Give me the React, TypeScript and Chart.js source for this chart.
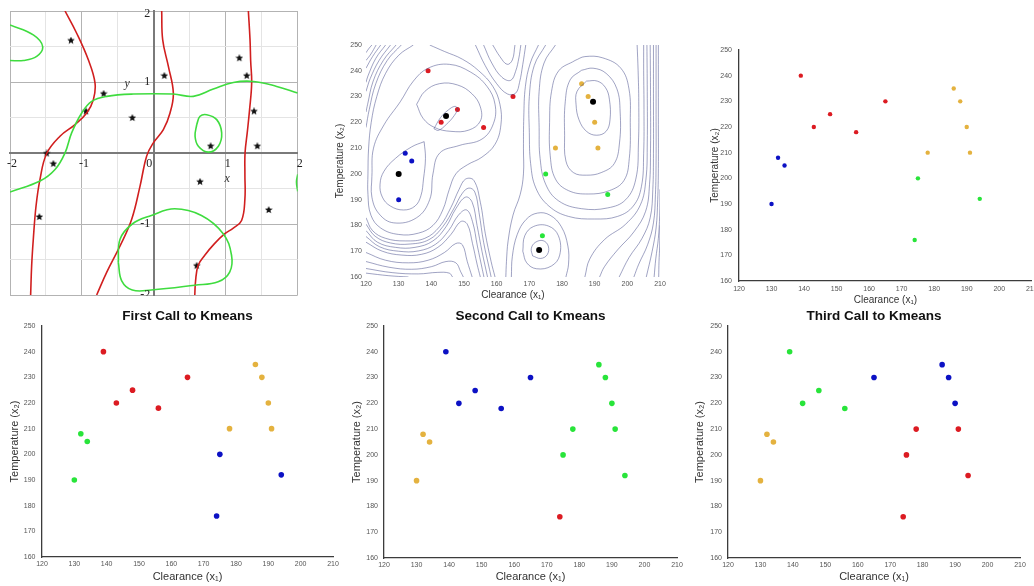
import React, { useEffect, useRef } from "react";
import { Chart, registerables } from "chart.js";

Chart.register(...registerables);

type Pt = [number, number];

const SANS = '"Liberation Sans", Arial, Helvetica, sans-serif';
const SERIF = '"Liberation Serif", "Times New Roman", serif';
Chart.defaults.font.family = SANS;

// ---------------- k-means data ----------------
const clearance = [130, 132, 134, 139, 143, 148, 156, 165, 174, 175, 178, 186, 188, 190, 191, 194];
const temperature = [190, 208, 205, 240, 220, 225, 218, 230, 176, 200, 210, 235, 230, 220, 210, 192];

const groupsInitial = ["B", "B", "B", "R", "R", "R", "R", "R", "G", "G", "O", "O", "O", "O", "O", "G"];
const groupsFirst = ["G", "G", "G", "R", "R", "R", "R", "R", "B", "B", "O", "O", "O", "O", "O", "B"];
const groupsSecond = ["O", "O", "O", "B", "B", "B", "B", "B", "R", "G", "G", "G", "G", "G", "G", "G"];
const groupsThird = ["O", "O", "O", "G", "G", "G", "G", "B", "R", "R", "R", "B", "B", "B", "R", "R"];

const centroidClearance = [130, 144.5, 189.5, 173];
const centroidTemperature = [200, 222.5, 228, 170.5];

const panelTitles = ["First Call to Kmeans", "Second Call to Kmeans", "Third Call to Kmeans"];
const xAxisLabel = "Clearance (x\u2081)";
const yAxisLabel = "Temperature (x\u2082)";

// ---------------- contour lines (traced, data units) ----------------
const contourB1: Pt[] = [[137.8, 212.5], [134, 210.5], [129, 206], [125.5, 201], [124.3, 196], [125, 191], [127.5, 187.5], [131.5, 186], [135, 187.5], [136.8, 191.5], [137.6, 198], [138.2, 206], [137.8, 212.5]];
const contourR1: Pt[] = [[140.8, 217.5], [142.2, 216.9], [144.6, 219.2], [147, 222.6], [148, 225.3], [147.2, 226.2], [145.2, 224.8], [142.8, 221.8], [140.8, 217.5]];
const contourR2: Pt[] = [[135.5, 227], [138, 232], [142.5, 235], [148, 234.5], [152.5, 231], [155, 226], [155, 220.5], [151.5, 217], [146, 216.5], [141, 218], [137.5, 221.5], [135.5, 227]];
const contourBR: Pt[] = [[121.8, 199], [122.3, 210], [125.5, 219], [130.5, 228], [134.5, 236], [139, 241], [145.5, 242.5], [152, 239.5], [157, 234], [159.5, 227], [159, 219.5], [155.5, 213.5], [148.5, 211], [142.5, 208], [140.5, 200], [139.5, 190], [135.5, 183], [128.5, 181], [124, 184.5], [121.8, 191], [121.8, 199]];
const contourBR2: Pt[] = [[139.5, 250], [144, 247.5], [149.5, 244.5], [154.5, 240], [158.8, 234], [161, 227], [161.3, 219], [159.5, 211.5], [155.5, 206.5], [151, 203.5], [147.5, 200], [145.5, 194], [143.5, 186], [140.5, 180], [136, 177], [130, 176.5], [124.5, 179], [121.5, 184], [120.6, 192], [120.6, 200], [120.8, 210], [121.6, 220], [123.3, 230], [126, 239], [130, 246], [134.5, 250]];
const contourTL1: Pt[] = [[121.8, 250], [120.8, 248.5], [120, 247]];
const contourTL1b: Pt[] = [[123.1, 250], [121.5, 246.5], [120, 244]];
const contourTL2: Pt[] = [[124.5, 250], [122, 245.5], [120, 241]];
const contourTL2b: Pt[] = [[126, 250], [123, 244.8], [120.6, 238], [120, 235.5]];
const contourTL3: Pt[] = [[127.5, 250], [124, 244], [121.3, 237], [120, 232]];
const contourTL3b: Pt[] = [[129.2, 250], [125.3, 244], [122.2, 236], [120.5, 227], [120, 224]];
const contourTL4: Pt[] = [[130.8, 250], [126.5, 244], [123, 235], [121, 225], [120, 218]];
const contourTg1: Pt[] = [[120, 183], [122, 178], [126, 175], [132, 174], [138, 175], [142.5, 179.5], [146, 187], [148.5, 194], [150.5, 198], [153, 197.5], [155, 189], [156.5, 177], [158.3, 166], [159.5, 160]];
const contourTg1b: Pt[] = [[120, 180.5], [122.8, 175.8], [127.5, 173.2], [133.5, 172.8], [139.3, 174.5], [143.5, 179.5], [147, 186.8], [149.5, 192.5], [151.5, 194.5], [153.3, 193], [154.6, 185], [156, 173.5], [157.8, 163], [158.3, 160]];
const contourTg2: Pt[] = [[120, 178], [123.5, 173.5], [129, 171.5], [135, 171.5], [140.5, 174], [144.5, 179.5], [147.5, 186.5], [150.5, 191], [152.5, 189], [154, 180], [155.5, 170], [157.2, 160]];
const contourTg2b: Pt[] = [[120, 175.7], [124.2, 171.7], [130, 170], [136, 170.1], [141.3, 172.7], [145.3, 178], [148.3, 184], [150.8, 186], [152.6, 181.5], [154.1, 172], [155.6, 163], [156.1, 160]];
const contourTg3: Pt[] = [[120, 173.5], [125, 170], [131, 168.5], [137, 168.8], [142, 171.5], [146, 176.5], [149, 181.5], [151, 180.5], [152.6, 173], [154, 165], [155, 160]];
const contourTg4: Pt[] = [[120, 169.5], [126, 166.5], [133, 165.5], [139, 166.5], [144, 169.5], [147.5, 173], [149.5, 172.5], [151, 166], [152.5, 160]];
const contourTg5: Pt[] = [[120, 166], [127, 163.8], [134, 163], [140, 164], [144.5, 166], [147.5, 165.5], [149, 162], [149.8, 160]];
const contourTg6: Pt[] = [[120, 163.3], [128, 161.7], [136, 161.2], [142, 161.8], [145.5, 161.5], [146.5, 160]];
const contourTg7: Pt[] = [[120, 161.5], [127, 160.5], [133, 160]];
const contourD1: Pt[] = [[171, 168.2], [170.6, 171], [171.8, 173.4], [174.2, 174.1], [175.8, 172], [175.5, 168.7], [173.5, 167.2], [171, 168.2]];
const contourD2: Pt[] = [[168, 170], [168.6, 176], [171.3, 179.6], [175.8, 179.8], [178.9, 176], [179.3, 168.5], [176.8, 164.3], [172.2, 163.2], [169.2, 165.5], [168, 170]];
const contourD3: Pt[] = [[164.5, 160], [164.8, 168], [166.3, 176.5], [169, 182.3], [172.5, 184.8], [176.3, 184], [179.8, 179.5], [181.8, 172], [182, 165], [181.2, 160]];
const contourO1: Pt[] = [[187.5, 236], [184.6, 232], [184.3, 227], [185.2, 221], [187.5, 216.5], [190.6, 215], [193.5, 216.5], [194.7, 221], [194.5, 229], [193.3, 233.5], [190.8, 236], [187.5, 236]];
const contourO2: Pt[] = [[186, 240.2], [182.5, 236.5], [181, 228], [180.8, 215], [181.2, 205], [183.5, 200.5], [187.5, 199.5], [192, 200.5], [196, 204], [197.6, 212], [197.8, 224], [196.8, 233], [193.5, 239], [189.5, 241], [186, 240.2]];
const contourO3: Pt[] = [[184, 244], [179, 240], [176.8, 232], [176.2, 220], [176.4, 207], [178, 198], [182, 193.5], [188, 192.2], [194.5, 193.5], [199, 197.5], [200.6, 206], [200.9, 220], [200.5, 233], [198, 241], [192.5, 245], [187, 245.5], [184, 244]];
const contourO4: Pt[] = [[178, 250], [174.5, 243], [173, 232], [173, 218], [173.3, 206], [175, 196], [179, 189.5], [186, 186.5], [194, 186.8], [199.5, 190], [202.6, 198], [203.4, 212], [203.5, 228], [203.3, 240], [203, 250]];
const contourO5: Pt[] = [[175, 250], [171.5, 242], [170, 230], [170, 216], [170.4, 204], [172, 194.5], [176, 187.5], [182, 183.5], [190, 182.5], [197, 183.5], [201.8, 187.5], [204.3, 195], [205, 208], [205.1, 225], [205, 240], [205, 250]];
const contourO6: Pt[] = [[172.8, 250], [170.3, 243], [168.8, 234], [168.3, 222], [168.2, 210], [168.2, 200], [167.2, 192], [165, 184], [163.5, 174], [163, 166], [162.8, 160]];
const contourTB1: Pt[] = [[158.8, 250], [161, 245.5], [163.2, 242.5], [164.8, 244.2], [165.6, 250]];
const contourTB2: Pt[] = [[156, 250], [158.5, 243], [161.6, 237.5], [164.3, 236.3], [165.8, 239.8], [166.8, 245], [167.4, 250]];
const contourTB3: Pt[] = [[153.5, 250], [156.5, 242], [160, 235], [163.3, 231], [165.8, 231.3], [167, 235.5], [168, 242.5], [168.9, 250]];
const contourRE1: Pt[] = [[206, 250], [206.1, 232], [206.1, 212], [205.7, 198], [204, 188], [199.5, 180.5], [193, 174.5], [188.5, 167], [187, 160]];
const contourRE2: Pt[] = [[207, 250], [207.1, 230], [207.1, 210], [206.8, 196], [205.6, 185.5], [202, 177.5], [197, 170.5], [193, 164], [191.5, 160]];
const contourRE3: Pt[] = [[208, 250], [208, 228], [208, 208], [207.8, 194], [207, 183], [204.5, 175], [200.5, 167.5], [197.5, 160]];
const contourRE4: Pt[] = [[208.8, 250], [208.8, 226], [208.8, 205], [208.6, 192], [208, 181], [206.2, 172.5], [203.5, 165], [202, 160]];
const contourRE5: Pt[] = [[209.5, 250], [209.5, 222], [209.5, 202], [209.3, 190], [208.8, 179], [207.6, 170], [205.8, 160]];
const contourRE6: Pt[] = [[210, 194], [209.9, 184], [209.5, 175], [208.7, 167], [208.2, 160]];
const contourRE7: Pt[] = [[210, 180], [209.9, 172], [209.7, 166], [209.6, 160]];

const contourLines: Pt[][] = [
  contourB1, contourR1, contourR2, contourBR, contourBR2,
  contourTL1, contourTL1b, contourTL2, contourTL2b, contourTL3, contourTL3b, contourTL4,
  contourTg1, contourTg1b, contourTg2, contourTg2b, contourTg3, contourTg4, contourTg5, contourTg6, contourTg7,
  contourD1, contourD2, contourD3,
  contourO1, contourO2, contourO3, contourO4, contourO5, contourO6,
  contourTB1, contourTB2, contourTB3,
  contourRE1, contourRE2, contourRE3, contourRE4, contourRE5, contourRE6, contourRE7,
];

// ---------------- Maple-style panel (traced, data units) ----------------
const redCurveA: Pt[] = [[-1.235, 2], [-1.073, 1.687], [-0.911, 1.312], [-0.818, 0.985], [-0.841, 0.751], [-0.934, 0.564], [-1.096, 0.4], [-1.305, 0.236], [-1.49, -0.007], [-1.583, -0.372], [-1.638, -0.746], [-1.676, -1.214], [-1.699, -1.588], [-1.713, -2]];
const redCurveB: Pt[] = [[0.109, 2], [0.123, 1.593], [0.202, 1.219], [0.271, 0.844], [0.225, 0.564], [0.132, 0.33], [-0.007, 0.143], [-0.1, -0.044], [-0.192, -0.466], [-0.308, -0.933], [-0.47, -1.308], [-0.656, -1.682], [-0.795, -2]];
const redCurveC: Pt[] = [[1.314, 2], [1.337, 1.6], [1.346, 1.3], [1.36, 0.985], [1.33, 0.6], [1.3, 0.3], [1.268, 0.002], [1.266, -0.3], [1.266, -0.646], [1.22, -0.95], [1.1, -1.06], [0.987, -1.137], [0.84, -1.28], [0.708, -1.44], [0.616, -1.58], [0.58, -1.8], [0.569, -2]];
const greenCurve1: Pt[] = [[-2, 1.804], [-1.676, 1.663], [-1.546, 1.5], [-1.629, 1.36], [-1.815, 1.303], [-2, 1.303]];
const greenCurve2: Pt[] = [[-2, -0.55], [-1.583, -0.395], [-1.374, -0.232], [-1.235, 0.002], [-1.143, 0.283], [-1.003, 0.564], [-0.864, 0.728], [-0.656, 0.798], [-0.285, 0.83], [0.271, 0.83], [0.549, 0.798], [0.827, 0.9], [1.105, 0.994], [1.384, 1.008], [1.708, 0.938], [2, 0.844]];
const greenCurve3: Pt[] = [[0.596, 0.4], [0.642, 0.517], [0.735, 0.54], [0.874, 0.47], [0.943, 0.283], [0.897, 0.096], [0.758, 0.012], [0.619, 0.096], [0.573, 0.236], [0.596, 0.4]];
const greenCurve4: Pt[] = [[-0.494, -1.541], [-0.47, -1.214], [-0.3, -1.0], [-0.035, -0.88], [0.29, -0.786], [0.662, -0.88], [0.964, -1.137], [1.08, -1.44], [1.056, -1.674], [0.894, -1.815], [0.569, -1.862], [-0.035, -1.93], [-0.3, -1.93], [-0.447, -1.8], [-0.494, -1.541]];
const greenCurve5: Pt[] = [[2, -0.3], [1.983, -0.41], [2, -0.54]];
const starX = [-1.152, 0.146, 1.189, 1.291, -0.698, -0.943, -0.299, 1.393, 0.79, 1.439, -1.49, -1.397, 0.642, -1.592, 1.597, 0.596];
const starY = [1.584, 1.088, 1.336, 1.088, 0.835, 0.587, 0.494, 0.587, 0.096, 0.096, -0.007, -0.152, -0.405, -0.901, -0.802, -1.588];
const mapleYTickLabels = [2, 1, -1, -2];

// ---------------- helpers ----------------
const groupColors: Record<string, string> = { R: "#dc1b22", B: "#0c11c4", G: "#28e43a", O: "#e4b23f" };
const groupOrder = ["R", "B", "G", "O"];

function toXY(pts: Pt[]) {
  return pts.map(([x, y]) => ({ x, y }));
}

function groupDatasets(groups: string[], radius: number) {
  return groupOrder.map((g) => ({
    data: clearance
      .map((c, i) => ({ x: c, y: temperature[i], g: groups[i] }))
      .filter((p) => p.g === g)
      .map((p) => ({ x: p.x, y: p.y })),
    pointRadius: radius,
    pointBackgroundColor: groupColors[g],
    pointBorderWidth: 0,
    pointHoverRadius: radius,
    showLine: false,
  }));
}

function makeStar(size: number): HTMLCanvasElement {
  const c = document.createElement("canvas");
  c.width = size;
  c.height = size;
  const g = c.getContext("2d")!;
  g.fillStyle = "#111";
  g.beginPath();
  const cx = size / 2, cy = size / 2, R = size / 2, r = R * 0.45;
  for (let i = 0; i < 10; i++) {
    const a = -Math.PI / 2 + (i * Math.PI) / 5;
    const rad = i % 2 === 0 ? R : r;
    const px = cx + rad * Math.cos(a);
    const py = cy + rad * Math.sin(a);
    if (i === 0) g.moveTo(px, py);
    else g.lineTo(px, py);
  }
  g.closePath();
  g.fill();
  return c;
}

interface Geom {
  padTop: number;
  padRight: number;
  wy: number;
  hx: number;
  yTitlePad: number;
  xTitlePad: number;
  yTickPad: number;
  xTickPad: number;
  titleFont: number;
  axisLine: boolean;
}

function scatterOptions(g: Geom, title?: string): any {
  return {
    responsive: true,
    maintainAspectRatio: false,
    animation: false,
    events: [],
    layout: { padding: { left: 0, top: g.padTop, right: g.padRight, bottom: 0 } },
    plugins: {
      legend: { display: false },
      tooltip: { enabled: false },
      title: title
        ? {
            display: true,
            text: title,
            fullSize: false,
            color: "#111",
            font: { family: SANS, size: 13.5, weight: "bold" },
            padding: { top: 0, bottom: 1.8 },
          }
        : { display: false },
    },
    scales: {
      x: {
        type: "linear",
        min: 120,
        max: 210,
        afterFit: (s: any) => {
          s.height = g.hx;
          s.paddingLeft = 0;
          s.paddingRight = 0;
        },
        ticks: { stepSize: 10, autoSkip: false, maxRotation: 0, padding: g.xTickPad, color: "#555", font: { family: SANS, size: 7 } },
        grid: { display: false, drawTicks: false },
        border: { display: g.axisLine, color: "#3c3c3c", width: 1.3 },
        title: { display: true, text: xAxisLabel, color: "#333", font: { family: SANS, size: g.titleFont }, padding: { top: 0, bottom: g.xTitlePad } },
      },
      y: {
        type: "linear",
        min: 160,
        max: 250,
        afterFit: (s: any) => {
          s.width = g.wy;
          s.paddingTop = 0;
          s.paddingBottom = 0;
        },
        ticks: { stepSize: 10, autoSkip: false, padding: g.yTickPad, color: "#555", font: { family: SANS, size: 7 } },
        grid: { display: false, drawTicks: false },
        border: { display: g.axisLine, color: "#3c3c3c", width: 1.3 },
        title: { display: true, text: yAxisLabel, color: "#333", font: { family: SANS, size: g.titleFont }, padding: { top: g.yTitlePad, bottom: 0 } },
      },
    },
  };
}

function contourConfig(): any {
  const lines = contourLines.map((pts) => ({
    data: toXY(pts),
    showLine: true,
    borderColor: "rgba(72,78,140,0.75)",
    borderWidth: 0.7,
    pointRadius: 0,
    tension: 0.4,
    fill: false,
  }));
  const centroids = {
    data: centroidClearance.map((x, i) => ({ x, y: centroidTemperature[i] })),
    pointRadius: 3,
    pointBackgroundColor: "#000",
    pointBorderWidth: 0,
    showLine: false,
  };
  return {
    type: "scatter",
    data: { datasets: [...lines, ...groupDatasets(groupsInitial, 2.5), centroids] },
    options: scatterOptions({ padTop: 10, padRight: 15, wy: 36, hx: 25, yTitlePad: 4, xTitlePad: 1, yTickPad: 4, xTickPad: 2.5, titleFont: 10, axisLine: false }),
  };
}

function plainConfig(): any {
  return {
    type: "scatter",
    data: { datasets: groupDatasets(groupsInitial, 2.2) },
    options: scatterOptions({ padTop: 10, padRight: 2, wy: 34, hx: 27, yTitlePad: 4, xTitlePad: 2, yTickPad: 7, xTickPad: 3.5, titleFont: 10, axisLine: true }),
  };
}

function callConfig(groups: string[], title: string, wy: number, padRight: number, yTitlePad: number, hx: number, xTitlePad: number, yTickPad: number): any {
  return {
    type: "scatter",
    data: { datasets: groupDatasets(groups, 2.8) },
    options: scatterOptions({ padTop: 0, padRight, wy, hx, yTitlePad, xTitlePad, yTickPad, xTickPad: 2.5, titleFont: 11, axisLine: true }, title),
  };
}

const mapleAxisText = {
  id: "mapleAxisText",
  afterDraw(chart: any) {
    const { ctx, scales, chartArea } = chart;
    const x0 = scales.x.getPixelForValue(0);
    const y0 = scales.y.getPixelForValue(0);
    ctx.save();
    ctx.beginPath();
    ctx.rect(0, 0, chart.width, chartArea.bottom + 1);
    ctx.clip();
    ctx.fillStyle = "#222";
    ctx.font = `12px ${SERIF}`;
    ctx.textAlign = "right";
    ctx.textBaseline = "middle";
    mapleYTickLabels.forEach((v) => {
      const py = scales.y.getPixelForValue(v);
      ctx.fillText(String(v), x0 - 3.5, v === 2 ? py + 2.5 : py);
    });
    ctx.textBaseline = "top";
    ctx.fillText("0", x0 - 1.5, y0 + 5);
    ctx.fillStyle = "#333";
    ctx.font = `italic 12px ${SERIF}`;
    ctx.textAlign = "center";
    ctx.textBaseline = "middle";
    ctx.fillText("x", scales.x.getPixelForValue(1.02), scales.y.getPixelForValue(-0.365));
    ctx.fillText("y", scales.x.getPixelForValue(-0.37), scales.y.getPixelForValue(0.97));
    ctx.restore();
  },
};

function mapleConfig(): any {
  const curve = (pts: Pt[], color: string) => ({
    data: toXY(pts),
    showLine: true,
    borderColor: color,
    borderWidth: 1.6,
    pointRadius: 0,
    tension: 0.4,
    fill: false,
  });
  const red = "#d11f1f";
  const green = "#3fdc3f";
  const gridColor = (ctx: any) => {
    const v = ctx.tick ? ctx.tick.value : 0;
    return Math.abs(v - Math.round(v)) < 1e-6 ? "#b3b3b3" : "#e4e4e4";
  };
  return {
    type: "scatter",
    data: {
      datasets: [
        curve(greenCurve1, green),
        curve(greenCurve2, green),
        curve(greenCurve3, green),
        curve(greenCurve4, green),
        curve(greenCurve5, green),
        curve(redCurveA, red),
        curve(redCurveB, red),
        curve(redCurveC, red),
        {
          data: starX.map((x, i) => ({ x, y: starY[i] })),
          pointStyle: makeStar(8),
          pointRadius: 4,
          showLine: false,
        },
      ],
    },
    options: {
      responsive: true,
      maintainAspectRatio: false,
      animation: false,
      events: [],
      layout: { padding: { left: 10, top: 11, right: 12.3, bottom: 4 } },
      plugins: { legend: { display: false }, tooltip: { enabled: false } },
      scales: {
        x: {
          type: "linear",
          min: -2,
          max: 2,
          position: { y: 0 },
          afterFit: (s: any) => {
            s.height = 0;
            s.paddingLeft = 0;
            s.paddingRight = 0;
          },
          ticks: {
            stepSize: 0.5,
            autoSkip: false,
            maxRotation: 0,
            padding: 4,
            labelOffset: 2,
            color: "#222",
            font: { family: SERIF, size: 12 },
            callback: (v: any) => (Math.abs(v - Math.round(v)) < 1e-6 && Math.round(v) !== 0 ? String(Math.round(v)) : ""),
          },
          grid: { color: gridColor, lineWidth: 1, drawTicks: false },
          border: { display: true, color: "#7a7a7a", width: 2 },
        },
        y: {
          type: "linear",
          min: -2,
          max: 2,
          position: { x: 0 },
          afterFit: (s: any) => {
            s.width = 0;
            s.paddingTop = 0;
            s.paddingBottom = 0;
          },
          ticks: { stepSize: 0.5, autoSkip: false, display: false },
          grid: { color: gridColor, lineWidth: 1, drawTicks: false },
          border: { display: true, color: "#7a7a7a", width: 2 },
        },
      },
    },
    plugins: [mapleAxisText],
  };
}

function Panel({ left, top, width, height, make }: { left: number; top: number; width: number; height: number; make: () => any }) {
  const ref = useRef<HTMLCanvasElement | null>(null);
  useEffect(() => {
    if (!ref.current) return;
    const chart = new Chart(ref.current, make());
    return () => chart.destroy();
  }, []);
  return (
    <div style={{ position: "absolute", left, top, width, height }}>
      <canvas ref={ref} />
    </div>
  );
}

export default function App() {
  return (
    <div style={{ position: "fixed", left: 0, top: 0, width: 1034, height: 586, background: "#fff", overflow: "hidden" }}>
      <Panel left={0} top={0} width={310} height={300} make={mapleConfig} />
      <Panel left={330} top={35} width={345} height={267} make={contourConfig} />
      <Panel left={705} top={40} width={329} height={268} make={plainConfig} />
      <Panel left={0} top={308} width={345} height={278} make={() => callConfig(groupsFirst, panelTitles[0], 42, 12, 8.4, 29, 2.4, 6.5)} />
      <Panel left={345} top={308} width={345} height={278} make={() => callConfig(groupsSecond, panelTitles[1], 39, 13, 5.1, 28, 2.7, 6)} />
      <Panel left={690} top={308} width={344} height={278} make={() => callConfig(groupsThird, panelTitles[2], 38, 14, 3.4, 28, 2.7, 6)} />
    </div>
  );
}
